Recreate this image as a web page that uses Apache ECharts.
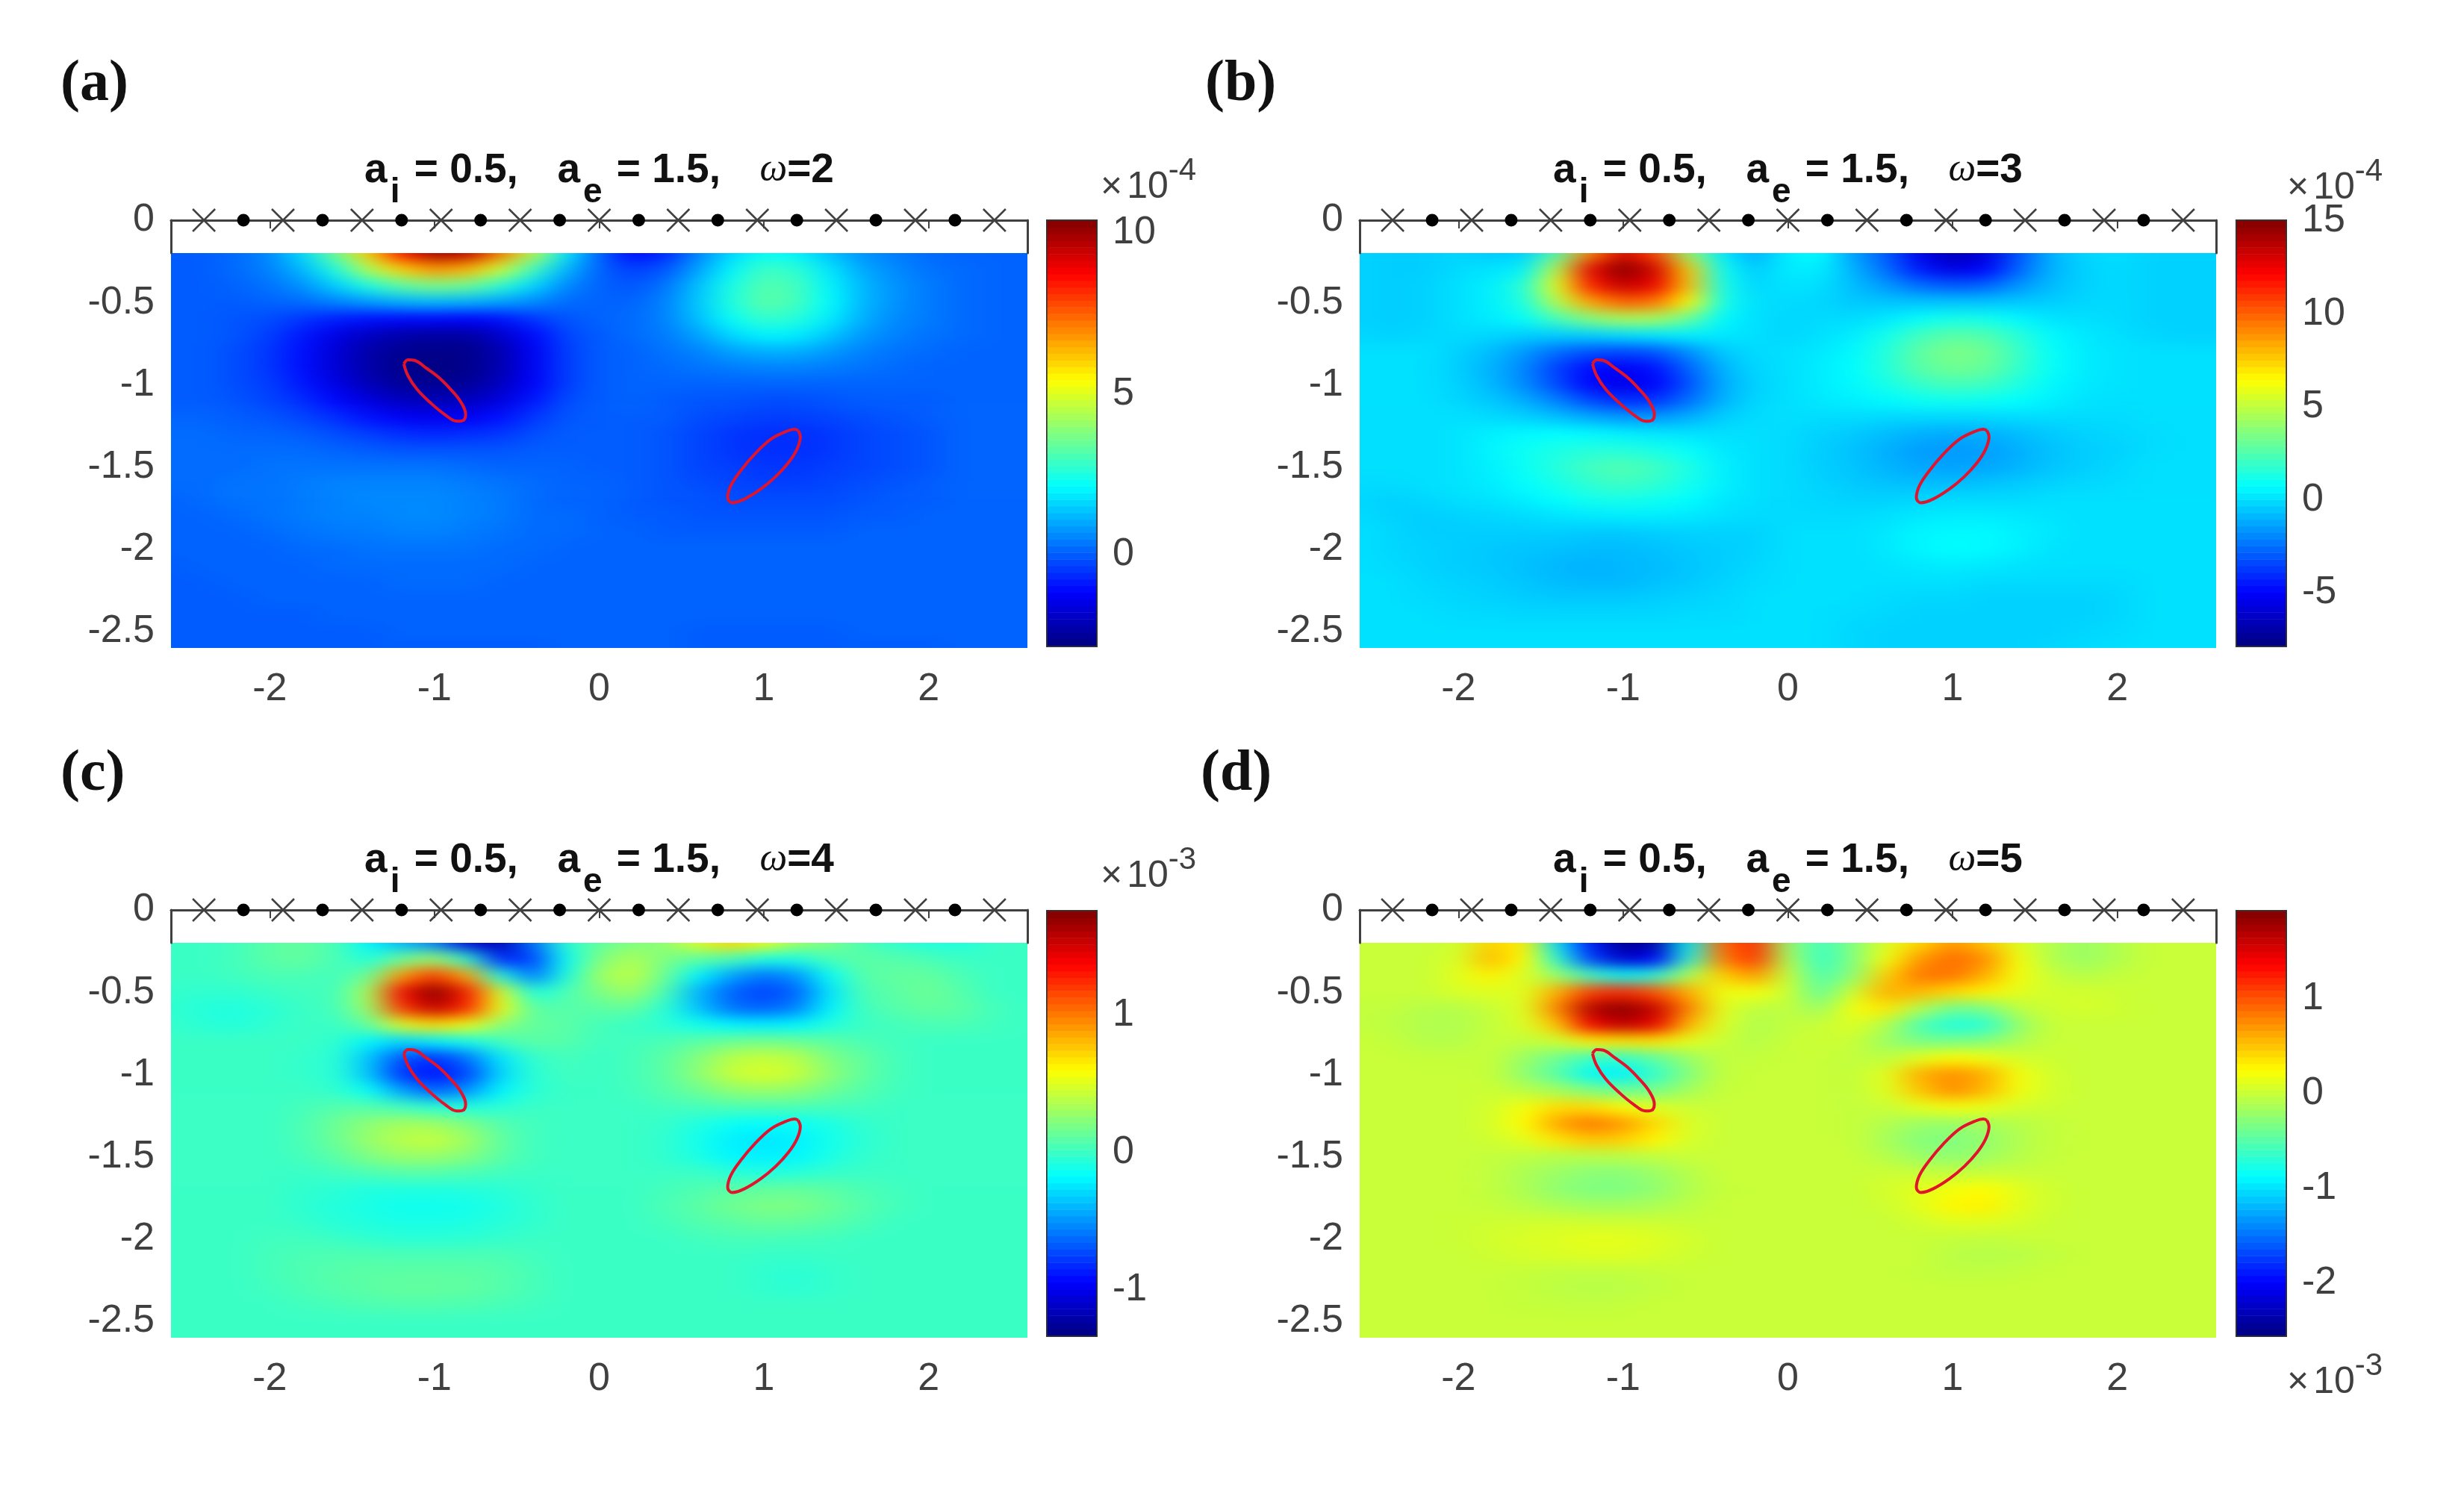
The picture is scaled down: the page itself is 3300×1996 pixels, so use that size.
<!DOCTYPE html>
<html>
<head>
<meta charset="utf-8">
<title>a_i = 0.5, a_e = 1.5</title>
<script src="https://cdn.jsdelivr.net/npm/echarts@6/dist/echarts.min.js"></script>
<style>
  html, body { margin: 0; padding: 0; background: #fff; }
  #fieldClip, #overlay { position: absolute; left: 0; top: 0; width: 3300px; height: 1996px; }
  #field { width: 3300px; height: 1996px; filter: url(#soft); }
</style>
</head>
<body>
<svg width="0" height="0" style="position:absolute">
  <filter id="soft" x="0" y="0" width="100%" height="100%" color-interpolation-filters="sRGB">
    <feGaussianBlur stdDeviation="20 9"></feGaussianBlur>
  </filter>
</svg>
<div id="fieldClip"><div id="field"></div></div>
<div id="overlay"></div>
<script>
// 节点坐标: x -2.6..2.6 (步长 0.2), y -0.2..-2.6 (步长 0.1)
var nodeX = [-2.6,-2.4,-2.2,-2,-1.8,-1.6,-1.4,-1.2,-1,-.8,-.6,-.4,-.2,0,.2,.4,.6,.8,1,1.2,1.4,1.6,1.8,2,2.2,2.4,2.6];
var nodeY = [-.2,-.3,-.4,-.5,-.6,-.7,-.8,-.9,-1,-1.1,-1.2,-1.3,-1.4,-1.5,-1.6,-1.7,-1.8,-1.9,-2,-2.1,-2.2,-2.3,-2.4,-2.5,-2.6];

// (a) omega=2, x 1e-4
var fieldA = [
  [0,0,.2,.6,1.7,3.6,6,8.5,10,9.6,7.2,4.6,1.9,.1,-1.1,-.7,.5,1.6,2.2,2,1.3,.7,.4,.2,.1,.1,.1],
  [0,0,.2,.5,1.2,2.5,4.4,6,6.8,6.4,4.8,2.9,1.2,.1,-.4,-.1,.9,2,2.9,2.7,1.8,1,.6,.3,.2,.1,.1],
  [0,0,.1,.3,.7,1.5,2.5,3.3,3.7,3.5,2.7,1.6,.6,.1,-.1,.3,1.3,2.4,3.2,3,2,1.2,.7,.4,.2,.1,.1],
  [0,0,0,.1,.2,.5,.8,1.1,1.2,1.1,.9,.6,.2,.1,.1,.5,1.4,2.5,3.3,3,2.1,1.2,.7,.4,.2,.1,.1],
  [0,0,-.1,-.2,-.5,-.8,-1,-1.1,-1.1,-1.2,-1,-.5,-.1,.1,.2,.5,1.3,2.2,2.8,2.6,1.9,1.1,.6,.4,.2,.1,.1],
  [0,0,-.1,-.4,-.9,-1.5,-2,-2.3,-2.4,-2.4,-1.9,-1.1,-.3,0,.2,.4,.9,1.6,2,1.9,1.4,.8,.5,.3,.2,.1,.1],
  [0,0,-.2,-.5,-1,-1.7,-2.3,-2.6,-2.7,-2.7,-2.2,-1.3,-.4,0,.1,.3,.5,.9,1.1,1.1,.8,.5,.3,.2,.1,.1,.1],
  [0,0,-.2,-.5,-1,-1.7,-2.3,-2.7,-2.8,-2.7,-2.2,-1.3,-.4,0,.1,.2,.3,.4,.5,.5,.4,.3,.2,.1,.1,.1,.1],
  [0,0,-.2,-.4,-.9,-1.5,-2.1,-2.5,-2.6,-2.5,-2,-1.2,-.4,0,.1,.1,.1,.1,.1,.1,.1,.1,.1,.1,.1,.1,.1],
  [0,0,-.1,-.3,-.6,-1.1,-1.6,-2,-2.1,-2,-1.6,-.9,-.2,0,.1,0,-.1,-.1,-.2,-.2,-.1,0,0,0,.1,.1,.1],
  [.1,.1,0,-.1,-.3,-.6,-1,-1.3,-1.4,-1.3,-1,-.5,-.1,0,0,0,-.2,-.3,-.4,-.4,-.3,-.2,-.1,0,.1,.1,.1],
  [.2,.2,.1,.1,0,-.2,-.4,-.6,-.7,-.6,-.5,-.2,0,0,0,-.1,-.3,-.5,-.6,-.6,-.5,-.3,-.2,-.1,.1,.1,.1],
  [.2,.2,.2,.2,.2,.1,0,-.1,-.1,-.1,-.1,0,0,0,0,-.1,-.3,-.5,-.6,-.6,-.5,-.3,-.2,-.1,.1,.1,.1],
  [.2,.2,.2,.3,.3,.3,.3,.3,.3,.2,.1,.1,.1,0,0,-.1,-.3,-.4,-.5,-.5,-.4,-.3,-.2,-.1,.1,.1,.1],
  [.2,.2,.3,.3,.4,.5,.5,.5,.5,.4,.3,.2,.1,.1,0,-.1,-.2,-.3,-.4,-.4,-.3,-.2,-.1,0,.1,.1,.1],
  [.1,.2,.3,.3,.4,.5,.6,.6,.6,.5,.4,.2,.1,.1,0,-.1,-.1,-.2,-.2,-.2,-.2,-.1,0,0,.1,.1,.1],
  [.1,.1,.2,.3,.4,.5,.5,.6,.6,.5,.4,.2,.2,.1,0,0,-.1,-.1,-.1,-.1,-.1,0,0,.1,.1,.1,.1],
  [.1,.1,.1,.2,.3,.4,.4,.5,.5,.4,.3,.2,.2,.1,.1,0,0,0,0,0,0,.1,.1,.1,.1,.1,.1],
  [.1,.1,.1,.1,.2,.2,.3,.3,.3,.3,.2,.2,.1,.1,.1,.1,.1,.1,.1,.1,.1,.1,.1,.1,.1,.1,.1],
  [0,.1,.1,.1,.1,.2,.2,.2,.2,.2,.2,.1,.1,.1,.1,.1,.1,.1,.1,.1,.1,.1,.1,.1,.1,.1,.1],
  [0,0,.1,.1,.1,.1,.1,.2,.2,.2,.1,.1,.1,.1,.1,.1,.1,.1,.1,.1,.1,.1,.1,.1,.1,.1,.1],
  [0,0,0,.1,.1,.1,.1,.1,.1,.1,.1,.1,.1,.1,.1,.1,.1,.1,.1,.1,.1,.1,.1,.1,.1,.1,.1],
  [0,0,0,0,0,.1,.1,.1,.1,.1,.1,.1,.1,.1,.1,.1,.1,.1,.1,.1,.1,.1,.1,.1,.1,.1,.1],
  [0,0,0,0,0,0,0,.1,.1,.1,.1,.1,.1,.1,.1,.1,0,0,0,0,0,.1,.1,.1,.1,.1,.1],
  [0,0,0,0,0,0,0,0,0,0,0,0,.1,.1,.1,.1,0,0,0,0,0,0,0,0,.1,.1,.1]
];

// (b) omega=3, x 1e-4
var fieldB = [
  [-.3,-.4,-.4,-.2,-.5,-.4,2.5,9,13,10.5,4,.3,-1.2,.4,.7,-1.5,-3,-5.5,-6.8,-6,-3.2,-1,-.2,0,-.3,-.3,-.3],
  [-.3,-.4,-.4,-.1,.1,.4,5,12.5,15,13,7.5,.9,-.5,.3,.3,-1,-2.6,-4.5,-5.6,-5,-2.8,-1,-.3,-.1,-.3,-.3,-.3],
  [-.3,-.4,-.3,0,.4,1.6,6,11.5,13.5,12.5,7.7,1.2,-.2,.1,0,-.8,-1.6,-2.6,-3,-2.8,-1.7,-.8,-.3,-.1,-.3,-.3,-.3],
  [-.3,-.4,-.3,0,.4,1.4,4.8,8.5,10,9.5,6.5,1.2,0,-.1,-.2,-.5,-.6,-.6,-.6,-.6,-.5,-.4,-.2,-.1,-.3,-.3,-.3],
  [-.3,-.4,-.3,0,.3,.8,2.3,3.7,4.5,4.4,3,.6,0,-.2,-.1,-.1,.2,.8,1.2,1.1,.6,.1,0,-.1,-.3,-.3,-.3],
  [-.2,-.3,-.2,-.1,-.2,-.4,-.4,-.3,0,.2,.4,.2,0,-.2,0,.3,1.1,2.2,2.7,2.5,1.6,.6,.2,0,-.2,-.3,-.3],
  [0,0,0,-.3,-.8,-1.6,-2.6,-3.2,-3.4,-3.1,-1.8,-.5,-.1,0,.2,.6,1.5,2.8,3.5,3.2,2,.8,.3,.1,0,0,0],
  [0,0,0,-.4,-1,-2,-3.6,-4.8,-5.2,-4.6,-2.8,-1,-.2,0,.3,.7,1.5,2.7,3.2,3,1.9,.8,.3,.1,0,0,0],
  [0,0,0,-.3,-.9,-1.9,-3.4,-5,-5.6,-5,-3.2,-1.2,-.3,0,.3,.6,1.2,1.9,2.3,2.1,1.4,.6,.2,.1,0,0,0],
  [0,0,0,-.2,-.5,-1.1,-2.1,-3.4,-4,-3.8,-2.5,-1,-.2,0,.2,.4,.6,.9,1,.9,.7,.4,.1,0,0,0,0],
  [0,0,0,0,-.1,-.3,-.7,-1.2,-1.6,-1.6,-1.1,-.4,-.1,0,-.1,-.1,-.2,-.2,-.2,-.2,-.1,-.1,-.1,-.1,0,0,0],
  [0,0,0,.1,.4,.6,.7,.6,.4,.2,.1,0,0,-.1,-.3,-.5,-.8,-1.1,-1.2,-1.1,-.8,-.5,-.3,-.2,-.1,0,0],
  [0,0,0,.1,.5,.9,1.3,1.5,1.5,1.2,.8,.2,0,-.1,-.4,-.7,-1.1,-1.5,-1.6,-1.5,-1.1,-.7,-.4,-.3,-.1,0,0],
  [0,0,0,.1,.4,.9,1.5,2.2,2.5,2.1,1.3,.4,0,-.1,-.4,-.6,-1,-1.3,-1.4,-1.3,-1,-.6,-.4,-.2,0,0,0],
  [-.1,-.1,0,.1,.3,.7,1.2,1.8,2.1,1.8,1.1,.4,0,-.1,-.3,-.5,-.7,-.8,-.8,-.7,-.5,-.3,-.2,-.1,0,0,0],
  [-.2,-.3,-.2,0,.1,.4,.7,1.1,1.2,1,.7,.2,0,-.1,-.2,-.3,-.3,-.2,-.1,-.1,-.1,0,0,0,0,0,0],
  [-.1,-.3,-.4,-.3,-.2,-.1,.1,.2,.3,.3,.2,0,-.1,-.1,-.1,-.1,0,.2,.3,.3,.2,.1,0,0,0,0,0],
  [0,-.2,-.4,-.4,-.4,-.4,-.4,-.5,-.5,-.4,-.3,-.3,-.3,0,0,0,.2,.5,.6,.6,.4,.2,0,0,0,0,0],
  [0,-.2,-.3,-.4,-.5,-.6,-.7,-.8,-.8,-.7,-.5,-.4,-.3,0,0,0,.2,.5,.7,.6,.4,.1,0,0,0,0,0],
  [0,-.1,-.3,-.4,-.5,-.7,-.9,-1,-.9,-.8,-.6,-.4,-.2,0,0,0,.1,.2,.3,.2,.1,0,0,0,0,0,0],
  [0,0,-.2,-.3,-.4,-.6,-.8,-.9,-.9,-.7,-.5,-.3,-.1,0,0,0,0,0,0,-.1,-.1,-.1,-.1,-.1,0,0,0],
  [0,0,-.1,-.2,-.3,-.4,-.5,-.5,-.5,-.4,-.3,-.2,0,0,0,0,-.1,-.2,-.2,-.3,-.3,-.3,-.3,-.2,0,0,0],
  [0,0,0,-.1,-.1,-.2,-.2,-.2,-.2,-.2,-.1,-.1,0,0,0,-.1,-.2,-.3,-.3,-.3,-.3,-.3,-.3,-.2,0,0,0],
  [0,0,0,0,0,0,0,0,0,0,0,0,0,0,0,-.2,-.3,-.3,-.3,-.3,-.3,-.3,-.2,-.1,0,0,0],
  [0,0,0,0,0,0,0,0,0,0,0,0,0,0,0,-.2,-.3,-.3,-.3,-.3,-.3,-.2,-.1,0,0,0,0]
];

// (c) omega=4, x 1e-3
var fieldC = [
  [0,0,.02,.1,.12,.05,-.2,-.4,-.55,-1.05,-1.2,-.6,-.05,.12,.2,.25,.5,.72,.55,.3,.2,.05,-.03,-.08,-.08,0,0],
  [0,0,.03,.1,.12,.05,-.08,.15,.3,-.05,-.85,-.75,-.15,.2,.35,.2,.1,.05,-.1,-.1,.05,.1,.08,.05,0,0,0],
  [0,0,.02,.05,.05,.02,.15,.9,1.2,.85,-.1,-.6,-.1,.3,.4,.15,-.2,-.45,-.6,-.5,-.15,.08,.12,.12,.05,0,0],
  [-.02,-.03,-.03,0,.02,.03,.35,1.35,1.75,1.3,.5,-.1,.05,.2,.3,.05,-.4,-.65,-.75,-.65,-.25,.05,.1,.15,.08,0,0],
  [-.03,-.07,-.08,-.05,0,.03,.3,1.2,1.55,1.25,.55,.1,.08,.1,.12,-.05,-.35,-.6,-.65,-.55,-.2,.02,.08,.12,.1,.03,0],
  [-.02,-.05,-.07,-.03,0,0,.12,.5,.7,.55,.25,.12,.1,.03,0,-.05,-.12,-.2,-.22,-.2,-.08,0,.03,.05,.05,.02,0],
  [0,0,0,0,0,-.03,-.2,-.3,-.2,-.12,.02,.1,.08,.02,.02,.05,.1,.15,.18,.15,.1,.05,.02,0,0,0,0],
  [0,0,0,0,-.02,-.05,-.35,-.7,-.8,-.6,-.25,-.02,.03,0,.03,.1,.22,.38,.42,.38,.2,.12,.03,0,0,0,0],
  [0,0,0,0,-.02,-.05,-.35,-.8,-.9,-.75,-.3,-.05,.02,0,.03,.1,.25,.42,.48,.42,.25,.12,.03,0,0,0,0],
  [0,0,0,0,0,-.03,-.15,-.45,-.65,-.5,-.2,-.05,0,0,.02,.08,.15,.25,.28,.25,.15,.08,.02,0,0,0,0],
  [0,0,0,0,.03,.08,.08,.02,-.05,-.08,-.05,0,0,0,0,.02,.03,.05,.05,.05,.03,.02,0,0,0,0,0],
  [0,0,0,0,.05,.15,.25,.32,.3,.2,.08,.02,0,0,0,-.02,-.08,-.15,-.18,-.15,-.1,-.03,0,0,0,0,0],
  [0,0,0,0,.05,.15,.28,.38,.42,.3,.12,.02,0,0,0,-.03,-.12,-.22,-.25,-.22,-.12,-.05,0,0,0,0,0],
  [0,0,0,0,.03,.1,.2,.28,.28,.22,.1,.02,0,0,0,-.03,-.1,-.2,-.22,-.2,-.1,-.03,0,0,0,0,0],
  [0,0,0,0,-.01,.02,.05,.08,.08,.05,.02,0,0,0,0,0,0,-.05,-.08,-.06,-.02,0,0,0,0,0,0],
  [0,0,0,0,-.03,-.05,-.08,-.08,-.08,-.07,-.05,-.02,0,0,0,.03,.06,.1,.12,.13,.1,.05,.02,0,0,0,0],
  [0,0,0,0,-.04,-.07,-.1,-.13,-.13,-.12,-.08,-.03,0,0,0,.05,.1,.16,.2,.2,.14,.08,.03,0,0,0,0],
  [0,0,0,0,-.02,-.06,-.08,-.1,-.1,-.09,-.06,-.03,0,0,0,.03,.07,.1,.13,.12,.09,.05,0,0,0,0,0],
  [0,0,0,.02,.02,0,-.03,-.05,-.05,-.04,-.02,0,0,0,0,0,.02,.04,.04,.03,.02,0,0,0,0,0,0],
  [0,0,0,.03,.05,.06,.06,.05,.05,.05,.05,.02,0,0,0,0,0,0,-.01,-.01,0,0,0,0,0,0,0],
  [0,0,0,.03,.06,.08,.1,.1,.1,.1,.08,.04,0,0,0,0,0,0,-.03,-.05,-.02,0,0,0,0,0,0],
  [0,0,0,.02,.05,.08,.1,.12,.12,.11,.08,.04,0,0,0,0,0,0,-.03,-.05,-.02,0,0,0,0,0,0],
  [0,0,0,0,.02,.04,.06,.07,.07,.06,.04,.02,0,0,0,0,0,0,0,0,0,0,0,0,0,0,0],
  [0,0,0,0,0,0,0,0,0,0,0,0,0,0,0,0,0,0,0,0,0,0,0,0,0,0,0],
  [0,0,0,0,0,0,0,0,0,0,0,0,0,0,0,0,0,0,0,0,0,0,0,0,0,0,0]
];

// (d) omega=5, x 1e-3
var fieldD = [
  [0,0,0,.03,.45,.3,-1,-1.9,-2.5,-2.4,-.9,.9,1.2,-.2,-.6,-.3,.1,.4,.7,.5,.1,-.1,-.2,-.1,0,0,0],
  [0,0,0,.08,.55,.25,-.7,-1.7,-2.2,-2,-.7,.8,1.15,-.1,-.65,-.3,.2,.7,.9,.75,.2,-.1,-.2,-.1,0,0,0],
  [0,0,0,.12,.3,.08,-.2,-.6,-.85,-.7,-.1,.45,.7,0,-.55,-.25,.45,.85,.85,.6,.2,0,-.08,-.02,0,0,0],
  [0,0,0,.08,.1,.1,.6,1.1,1.2,1,.6,.15,.2,.02,-.45,.05,.6,.55,.4,.3,.12,.04,.05,.02,0,0,0],
  [-.02,-.03,-.08,-.08,0,.1,.8,1.7,1.9,1.6,.8,.12,-.05,-.03,-.2,.2,.35,-.1,-.4,-.35,-.05,.03,.06,.03,0,0,0],
  [-.02,-.05,-.1,-.1,-.02,.08,.5,1.4,1.65,1.45,.55,.08,-.1,-.03,0,.1,-.1,-.55,-.75,-.7,-.25,0,0,0,0,0,0],
  [0,-.02,-.08,-.08,0,-.03,.02,.3,.35,.35,.12,0,-.08,0,.02,0,-.2,-.35,-.35,-.3,-.12,0,0,0,0,0,0],
  [0,0,-.01,-.01,-.01,-.2,-.4,-.6,-.65,-.45,-.2,-.03,-.02,0,0,-.03,-.05,.12,.25,.18,.05,.02,0,0,0,0,0],
  [0,0,0,0,-.01,-.25,-.5,-.9,-.95,-.65,-.3,-.03,0,0,0,-.02,.12,.6,.75,.6,.2,.04,0,0,0,0,0],
  [0,0,0,0,.02,-.05,-.15,-.3,-.4,-.35,-.15,-.01,0,0,0,-.02,.1,.5,.75,.55,.18,.05,0,0,0,0,0],
  [0,0,0,0,.05,.2,.4,.4,.25,.1,.02,0,0,0,0,-.02,0,.12,.2,.15,.05,.02,0,0,0,0,0],
  [0,0,0,0,.06,.25,.65,.85,.7,.4,.08,0,0,0,0,-.01,-.1,-.2,-.22,-.15,-.08,-.02,0,0,0,0,0],
  [0,0,0,0,.03,.12,.35,.5,.45,.28,.06,0,0,0,0,-.01,-.15,-.3,-.32,-.25,-.1,-.02,0,0,0,0,0],
  [0,0,0,0,-.02,-.05,-.08,-.08,-.07,-.04,0,0,0,0,0,0,-.08,-.2,-.25,-.18,-.08,-.01,0,0,0,0,0],
  [0,0,0,0,-.03,-.12,-.2,-.28,-.28,-.2,-.08,0,0,0,0,0,.02,0,-.03,0,0,0,0,0,0,0,0],
  [0,0,0,0,-.03,-.12,-.25,-.32,-.32,-.25,-.1,-.01,0,0,0,0,.05,.12,.2,.25,.12,.03,0,0,0,0,0],
  [0,0,0,0,-.01,-.06,-.12,-.16,-.16,-.12,-.05,0,0,0,0,0,.03,.12,.28,.3,.12,.03,0,0,0,0,0],
  [0,0,0,.01,.03,.04,.05,.03,.03,.02,0,0,0,0,0,0,0,.04,.1,.1,.06,.01,0,0,0,0,0],
  [0,0,0,.01,.05,.08,.1,.14,.13,.1,.05,0,0,0,0,0,0,0,-.02,-.03,-.01,0,0,0,0,0,0],
  [0,0,0,0,.03,.06,.08,.1,.1,.07,.03,0,0,0,0,0,0,0,-.06,-.08,-.07,-.03,0,0,0,0,0],
  [0,0,0,0,0,-.01,-.03,-.04,-.03,-.01,0,0,0,0,0,0,0,-.01,-.04,-.04,-.02,0,0,0,0,0,0],
  [0,0,0,0,0,-.02,-.05,-.07,-.06,-.03,0,0,0,0,0,0,0,0,0,0,0,0,0,0,0,0,0],
  [0,0,0,0,0,-.01,-.02,-.03,-.02,0,0,0,0,0,0,0,0,0,0,0,0,0,0,0,0,0,0],
  [0,0,0,0,0,0,0,0,0,0,0,0,0,0,0,0,0,0,0,0,0,0,0,0,0,0,0],
  [0,0,0,0,0,0,0,0,0,0,0,0,0,0,0,0,0,0,0,0,0,0,0,0,0,0,0]
];

var ranges = [[-2.83, 10.37], [-7.87, 15], [-1.33, 1.75], [-2.55, 1.92]];
var barTicks = [[0, 5, 10], [-5, 0, 5, 10, 15], [-1, 0, 1], [-2, -1, 0, 1]];
var omegas = ['2', '3', '4', '5'];
var exponents = ['-4', '-4', '-3', '-3'];
var letters = ['(a)', '(b)', '(c)', '(d)'];
var xTicks = [-2, -1, 0, 1, 2];
var yTicks = [0, -0.5, -1, -1.5, -2, -2.5];

// 传感器位置
var crossX = [-2.4, -1.92, -1.44, -0.96, -0.48, 0, 0.48, 0.96, 1.44, 1.92, 2.4];
var dotX = [-2.16, -1.68, -1.2, -0.72, -0.24, 0.24, 0.72, 1.2, 1.68, 2.16];

// 红色椭圆轮廓
var ellipseLeft = [[-1.186,-.873],[-1.161,-.848],[-1.121,-.852],[-1.053,-.897],[-.977,-.953],[-.902,-1.028],[-.841,-1.104],[-.811,-1.18],[-.826,-1.217],[-.863,-1.222],[-.939,-1.18],[-1.022,-1.112],[-1.106,-1.028],[-1.161,-.945],[-1.186,-.873]];
var ellipseRight = [[1.208,-1.278],[1.221,-1.316],[1.201,-1.391],[1.148,-1.475],[1.072,-1.558],[.982,-1.633],[.883,-1.694],[.808,-1.717],[.78,-1.686],[.8,-1.611],[.861,-1.52],[.944,-1.422],[1.042,-1.331],[1.133,-1.285],[1.186,-1.27],[1.208,-1.278]];

var fields = [fieldA, fieldB, fieldC, fieldD];
var jet = ['#000080', '#0000ff', '#0080ff', '#00ffff', '#80ff80', '#ffff00', '#ff8000', '#ff0000', '#800000'];
var inkColor = '#404040';

// 版面
var panels = [
  { left: 229, top: 295, barLeft: 1403, barTop: 296, barH: 569, labelX: 76, labelY: 70, expX: 1474, expY: 208 },
  { left: 1821, top: 295, barLeft: 2996, barTop: 296, barH: 569, labelX: 1609, labelY: 70, expX: 3063, expY: 209 },
  { left: 229, top: 1219, barLeft: 1403, barTop: 1221, barH: 568, labelX: 76, labelY: 994, expX: 1474, expY: 1131 },
  { left: 1821, top: 1219, barLeft: 2996, barTop: 1221, barH: 568, labelX: 1603, labelY: 994, expX: 3063, expY: 1809 }
];
var plotW = 1147, plotH = 573, bandH = 44, barW = 65;
var pad = 3;
var cellW = plotW / 26, cellH = (plotH - bandH) / 24;

// 底层: 只画场, 再做一点平滑
var fieldChart = echarts.init(document.getElementById('field'), null, { renderer: 'canvas' });
var fGrid = [], fX = [], fY = [], fSeries = [], fVisual = [];
var clipPath = '';
panels.forEach(function (p, k) {
  var heat = [], xCats = [], yCats = [];
  for (var c = -pad; c < nodeX.length + pad; c++) xCats.push(String(c));
  for (var r = -pad; r < nodeY.length + pad; r++) yCats.push(String(r));
  for (var i = 0; i < yCats.length; i++) {
    var row = fields[k][Math.max(0, Math.min(nodeY.length - 1, i - pad))];
    for (var j = 0; j < xCats.length; j++) {
      heat.push([j, i, row[Math.max(0, Math.min(nodeX.length - 1, j - pad))]]);
    }
  }
  fGrid.push({
    left: p.left - (pad + 0.5) * cellW,
    top: p.top + bandH - (pad + 0.5) * cellH,
    width: xCats.length * cellW,
    height: yCats.length * cellH
  });
  fX.push({ type: 'category', gridIndex: k, data: xCats, show: false });
  fY.push({ type: 'category', gridIndex: k, data: yCats, inverse: true, show: false });
  fSeries.push({ type: 'heatmap', xAxisIndex: k, yAxisIndex: k, data: heat, progressive: 0 });
  fVisual.push({
    show: false, seriesIndex: k, dimension: 2,
    min: ranges[k][0], max: ranges[k][1],
    inRange: { color: jet }
  });
  var x0 = p.left, x1 = p.left + plotW, y0 = p.top + bandH, y1 = p.top + plotH;
  clipPath += 'M' + x0 + ' ' + y0 + 'H' + x1 + 'V' + y1 + 'H' + x0 + 'Z';
});
document.getElementById('fieldClip').style.clipPath = "path('" + clipPath + "')";
fieldChart.setOption({
  animation: false,
  grid: fGrid, xAxis: fX, yAxis: fY, series: fSeries, visualMap: fVisual
});

// 上层: 坐标轴, 标记, 椭圆, 色条, 文字
var chart = echarts.init(document.getElementById('overlay'), null, { renderer: 'canvas' });
var grids = [], xAxes = [], yAxes = [], series = [], titles = [], visuals = [];
var tickLabel = { color: inkColor, fontSize: 52, fontFamily: 'Liberation Sans' };

panels.forEach(function (p, k) {
  // 主坐标
  var mainIdx = grids.length;
  grids.push({ left: p.left, top: p.top, width: plotW, height: plotH });
  xAxes.push({
    type: 'value', gridIndex: mainIdx, min: -2.6, max: 2.6, splitLine: { show: false },
    axisLine: { show: false }, axisTick: { show: false },
    axisLabel: Object.assign({ margin: 30, customValues: xTicks, formatter: String }, tickLabel)
  });
  var yMain = yAxes.length;
  yAxes.push({
    type: 'value', gridIndex: mainIdx, min: -2.6, max: 0, splitLine: { show: false },
    axisLine: { show: false }, axisTick: { show: false },
    axisLabel: Object.assign({ margin: 22, padding: [12, 0, 0, 0], customValues: yTicks, formatter: String }, tickLabel)
  });

  // 上方白带的边框
  var bandIdx = grids.length;
  grids.push({ left: p.left, top: p.top, width: plotW, height: bandH });
  xAxes.push({
    type: 'value', gridIndex: bandIdx, position: 'top', min: -2.6, max: 2.6, splitLine: { show: false },
    axisLine: { onZero: false, lineStyle: { color: inkColor, width: 3 } },
    axisTick: { inside: true, length: 11, customValues: xTicks, lineStyle: { color: inkColor, width: 2 } },
    axisLabel: { show: false }
  });
  var yBand = yAxes.length;
  yAxes.push({
    type: 'value', gridIndex: bandIdx, min: -0.2, max: 0, position: 'left', splitLine: { show: false },
    axisLine: { show: true, onZero: false, lineStyle: { color: inkColor, width: 3 } },
    axisTick: { show: false }, axisLabel: { show: false }
  });
  yAxes.push({
    type: 'value', gridIndex: bandIdx, min: -0.2, max: 0, position: 'right', splitLine: { show: false },
    axisLine: { show: true, onZero: false, lineStyle: { color: inkColor, width: 3 } },
    axisTick: { show: false }, axisLabel: { show: false }
  });

  series.push({
    type: 'scatter', xAxisIndex: bandIdx, yAxisIndex: yBand, clip: false, z: 5,
    symbol: 'path://M0 0L10 10M10 0L0 10', symbolSize: 30,
    itemStyle: { color: 'none', borderColor: inkColor, borderWidth: 2.5, opacity: 1 },
    data: crossX.map(function (x) { return [x, 0]; })
  });
  series.push({
    type: 'scatter', xAxisIndex: bandIdx, yAxisIndex: yBand, clip: false, z: 5,
    symbol: 'circle', symbolSize: 17, itemStyle: { color: '#000', opacity: 1 },
    data: dotX.map(function (x) { return [x, 0]; })
  });
  [ellipseLeft, ellipseRight].forEach(function (pts) {
    series.push({
      type: 'line', xAxisIndex: mainIdx, yAxisIndex: yMain, data: pts, smooth: 0.4,
      showSymbol: false, symbol: 'none', z: 6,
      lineStyle: { color: '#e0142c', width: 4 }
    });
  });

  // 色条
  var barIdx = grids.length;
  grids.push({
    left: p.barLeft, top: p.barTop, width: barW, height: p.barH,
    show: true, borderColor: '#333', borderWidth: 4, backgroundColor: 'transparent'
  });
  xAxes.push({ type: 'category', gridIndex: barIdx, data: ['c'], show: false });
  var levels = [], levelCats = [], lo = ranges[k][0], hi = ranges[k][1];
  for (var n = 0; n < 64; n++) {
    levelCats.push(String(n));
    levels.push([0, n, lo + (n + 0.5) / 64 * (hi - lo)]);
  }
  var yCat = yAxes.length;
  yAxes.push({ type: 'category', gridIndex: barIdx, data: levelCats, show: false });
  yAxes.push({
    type: 'value', gridIndex: barIdx, position: 'right', min: lo, max: hi, splitLine: { show: false },
    axisLine: { show: false },
    axisTick: { inside: true, length: 8, customValues: barTicks[k], lineStyle: { color: '#333', width: 2 } },
    axisLabel: Object.assign({ margin: 22, padding: [12, 0, 0, 0], customValues: barTicks[k], formatter: String }, tickLabel)
  });
  visuals.push({
    show: false, seriesIndex: series.length, dimension: 2,
    min: lo, max: hi, inRange: { color: jet }
  });
  series.push({ type: 'heatmap', xAxisIndex: barIdx, yAxisIndex: yCat, data: levels, progressive: 0, z: 1 });

  // 文字
  titles.push({
    text: '{b|a}{s|i}{b| = 0.5,}{g|   }{b|a}{s|e}{b| = 1.5,}{g|   }{w|\u03c9}{b|=' + omegas[k] + '}',
    left: p.left + plotW / 2, top: p.top - 94, textAlign: 'center', padding: 0,
    textStyle: {
      fontWeight: 'normal',
      rich: {
        b: { fontSize: 55, fontWeight: 'bold', fontFamily: 'Liberation Sans', color: '#111', lineHeight: 56, verticalAlign: 'top' },
        g: { fontSize: 63, fontFamily: 'Liberation Sans', lineHeight: 56, verticalAlign: 'top' },
        s: { fontSize: 46, fontWeight: 'bold', fontFamily: 'Liberation Sans', color: '#111', lineHeight: 114, padding: [0, 4, 0, 4] },
        w: { fontSize: 52, fontStyle: 'italic', fontFamily: 'Liberation Serif', color: '#111', lineHeight: 56, verticalAlign: 'top' }
      }
    }
  });
  titles.push({
    text: '{x|\u00d7}{m|10}{e|' + exponents[k] + '}',
    left: p.expX, top: p.expY, padding: 0,
    textStyle: {
      fontWeight: 'normal',
      rich: {
        x: { fontSize: 50, fontFamily: 'Liberation Sans', color: inkColor, lineHeight: 87, padding: [0, 6, 0, 0] },
        m: { fontSize: 50, fontFamily: 'Liberation Sans', color: inkColor, lineHeight: 87 },
        e: { fontSize: 42, fontFamily: 'Liberation Sans', color: inkColor, lineHeight: 42, verticalAlign: 'top' }
      }
    }
  });
  titles.push({
    text: letters[k], left: p.labelX, top: p.labelY,
    textStyle: { fontSize: 78, fontWeight: 'bold', fontFamily: 'Liberation Serif', color: '#111' }
  });
});

chart.setOption({
  animation: false,
  title: titles,
  grid: grids, xAxis: xAxes, yAxis: yAxes, series: series, visualMap: visuals
});
</script>
</body>
</html>
